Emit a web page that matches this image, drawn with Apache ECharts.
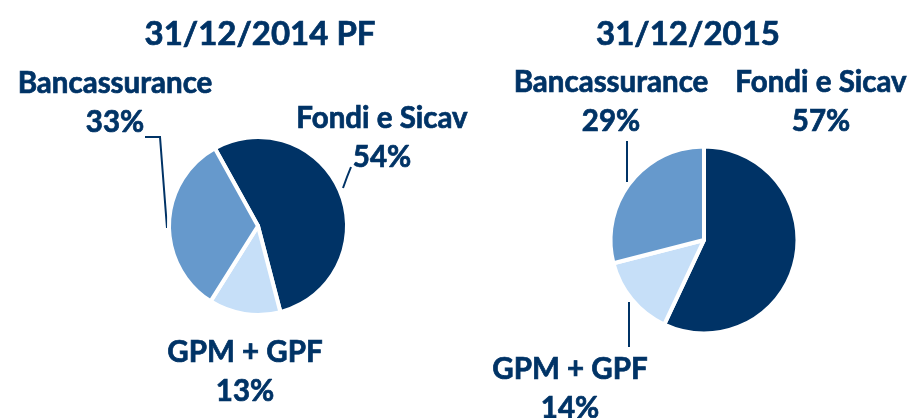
<!DOCTYPE html>
<html><head><meta charset="utf-8">
<script src="https://cdn.jsdelivr.net/npm/echarts@6/dist/echarts.min.js"></script>
<style>html,body{margin:0;padding:0;background:#fff}#c{width:910px;height:418px}</style>
</head><body><div id="c"></div>
<script>
const categories = ['Fondi e Sicav', 'GPM + GPF', 'Bancassurance'];
const values2014 = [54, 13, 33];
const values2015 = [57, 14, 29];
const titles = ['31/12/2014 PF', '31/12/2015'];
const colors = ['#003366', '#C6DFF8', '#6699CC'];
const txt = '#003366';
const font = 'Lato';

const chart = echarts.init(document.getElementById('c'));

function mk(vals, noLine) {
  return categories.map((n, i) => ({
    name: n, value: vals[i],
    itemStyle: { color: colors[i] },
    labelLine: { show: !noLine.includes(i) }
  }));
}

const layouts = [
  [
    { x: 382, y: 138, pts: [[351, 167], [347, 177], [343, 188]] },
    { x: 245, y: 372, pts: null },
    { x: 115, y: 103, pts: [[145, 137], [160, 137], [167, 228]] }
  ],
  [
    { x: 821, y: 102, pts: null },
    { x: 570, y: 389, pts: [[629, 347], [629, 325], [629, 302]] },
    { x: 611, y: 102, pts: [[627, 141], [627, 160], [627, 182]] }
  ]
];

function labelLayoutFor(k) {
  return function (p) {
    const L = layouts[k][p.dataIndex];
    const r = { x: L.x, y: L.y, align: 'center', verticalAlign: 'middle' };
    if (L.pts) r.labelLinePoints = L.pts;
    return r;
  };
}

const labelCfg = {
  show: true, position: 'outside',
  formatter: '{b}\n{c}%',
  color: txt, fontFamily: font, fontWeight: 'bold', fontSize: 29.5, lineHeight: 39,
  textBorderColor: txt, textBorderWidth: 0.7
};
const lineCfg = { lineStyle: { color: txt, width: 2 }, length: 10, length2: 10 };
const titleStyle = { color: txt, fontFamily: font, fontWeight: 'bold', fontSize: 33,
  textBorderColor: txt, textBorderWidth: 0.7 };

chart.setOption({
  animation: false,
  backgroundColor: '#fff',
  title: [
    { text: titles[0], left: 255, top: 13, textAlign: 'center', textStyle: titleStyle },
    { text: titles[1], left: 683, top: 13, textAlign: 'center', textStyle: titleStyle }
  ],
  series: [
    { type: 'pie', center: [258, 226], radius: 89, startAngle: 119, clockwise: true,
      avoidLabelOverlap: false,
      itemStyle: { borderColor: '#fff', borderWidth: 4 },
      label: labelCfg, labelLine: lineCfg, labelLayout: labelLayoutFor(0),
      emphasis: { disabled: true },
      data: mk(values2014, [1]) },
    { type: 'pie', center: [704, 240], radius: 93.5, startAngle: 90, clockwise: true,
      avoidLabelOverlap: false,
      itemStyle: { borderColor: '#fff', borderWidth: 4 },
      label: labelCfg, labelLine: lineCfg, labelLayout: labelLayoutFor(1),
      emphasis: { disabled: true },
      data: mk(values2015, [0]) }
  ]
});
</script></body></html>
